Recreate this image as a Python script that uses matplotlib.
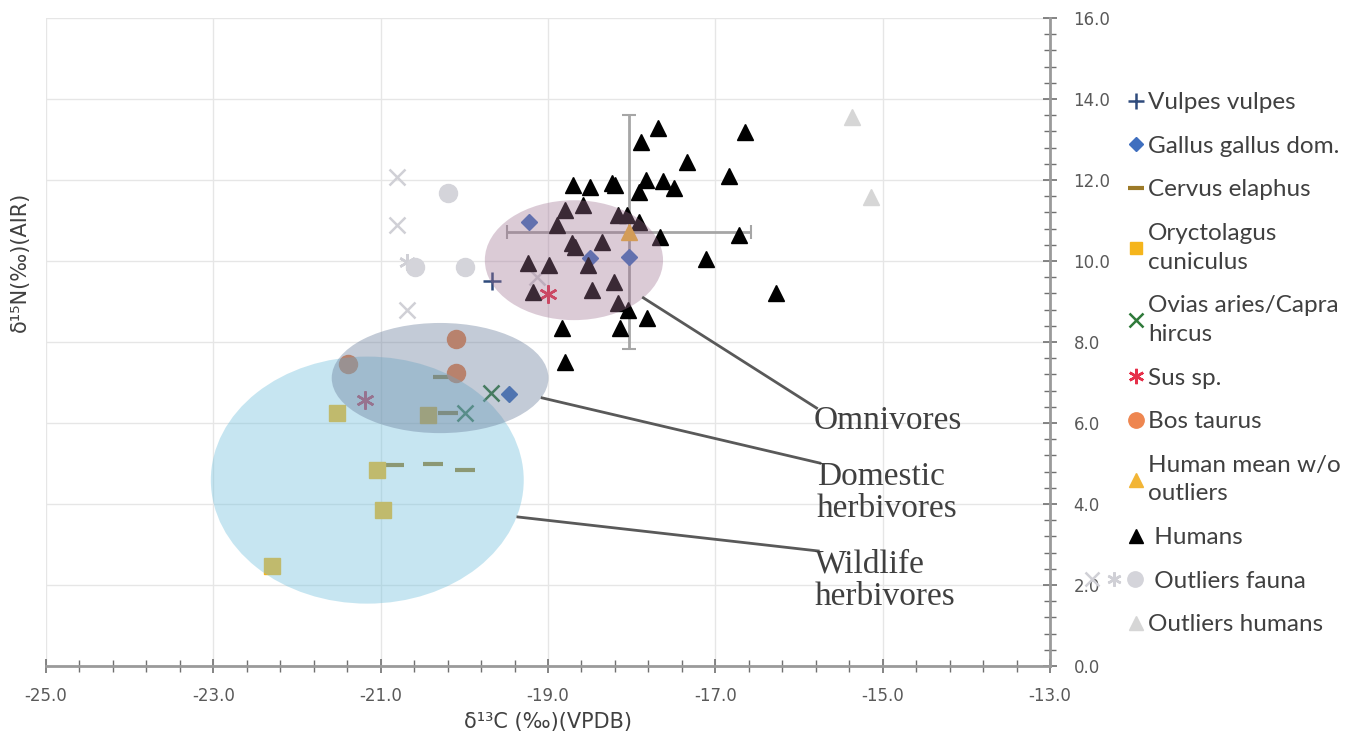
import numpy as np
import matplotlib
matplotlib.use("Agg")
import matplotlib.pyplot as plt
from matplotlib.patches import Ellipse
from matplotlib.legend_handler import HandlerTuple
from matplotlib.ticker import FixedLocator, FormatStrFormatter

plt.rcParams["axes.unicode_minus"] = False

# --- dati (d13C, d15N) ---
humans_x = [-17.69, -17.89, -16.65, -17.34, -16.84, -18.70, -18.50, -18.24, -18.20, -17.83,
            -17.91, -17.63, -17.49, -18.80, -18.58, -18.89, -18.16, -18.06, -17.91, -17.66,
            -16.72, -18.71, -18.68, -18.35, -17.11, -19.24, -18.99, -18.52, -18.21, -16.28,
            -19.18, -18.47, -18.16, -18.04, -17.82, -18.83, -18.14, -18.80]
humans_y = [13.28, 12.94, 13.19, 12.44, 12.10, 11.88, 11.83, 11.93, 11.88, 12.00,
            11.70, 11.98, 11.80, 11.26, 11.38, 10.89, 11.14, 11.14, 10.96, 10.59,
            10.64, 10.44, 10.35, 10.47, 10.05, 9.95, 9.90, 9.90, 9.48, 9.21,
            9.23, 9.28, 8.96, 8.79, 8.59, 8.35, 8.35, 7.51]

human_mean = (-18.03, 10.72)
human_err = (1.46, 2.89)

vulpes_x, vulpes_y = [-19.67], [9.51]
gallus_x = [-19.23, -18.50, -18.03, -19.47]
gallus_y = [10.96, 10.07, 10.10, 6.72]
cervus_x = [-20.26, -20.20, -20.84, -20.37, -19.99]
cervus_y = [7.14, 6.25, 4.96, 4.99, 4.84]
oryct_x = [-21.52, -20.43, -21.04, -20.97, -22.30]
oryct_y = [6.25, 6.20, 4.84, 3.85, 2.47]
ovis_x = [-19.68, -19.99]
ovis_y = [6.74, 6.25]
sus_x = [-19.00, -21.19]
sus_y = [9.19, 6.57]
bos_x = [-20.10, -20.10, -21.39]
bos_y = [8.07, 7.23, 7.46]

out_fauna_x_x = [-20.80, -20.80, -20.69, -19.13]
out_fauna_x_y = [12.07, 10.89, 8.79, 9.60]
out_fauna_ast_x, out_fauna_ast_y = [-20.69], [9.98]
out_fauna_o_x = [-20.59, -20.20, -19.99]
out_fauna_o_y = [9.85, 11.68, 9.85]
out_hum_x = [-15.37, -15.14]
out_hum_y = [13.56, 11.58]

# gruppi (ellissi): nome, centro, larghezza, altezza
gruppi = ["Wildlife\nherbivores", "Domestic\nherbivores", "Omnivores"]
centri = [(-21.16, 4.59), (-20.29, 7.11), (-18.69, 10.02)]
larghezze = [3.74, 2.59, 2.13]
altezze = [6.10, 2.72, 2.96]
# linee di richiamo: da bordo ellisse a etichetta
richiami = [((-19.36, 3.68), (-15.77, 2.84)),
            ((-19.07, 6.62), (-15.75, 5.01)),
            ((-17.86, 9.09), (-15.79, 6.37))]


class TuplaLarga(HandlerTuple):
    # allarga il simbolo composto verso sinistra (come nell'originale)
    def create_artists(self, legend, orig_handle, xdescent, ydescent, width, height,
                       fontsize, trans):
        extra = 32
        return super().create_artists(legend, orig_handle, xdescent + extra, ydescent,
                                      width + extra, height, fontsize, trans)


fig = plt.figure(figsize=(13.66, 7.40), dpi=100)
ax = fig.add_axes([46 / 1366, 74 / 740, 1004 / 1366, 648 / 740])
ax.set_xlim(-25, -13); ax.set_ylim(0, 16)

ax.xaxis.set_major_locator(FixedLocator(np.arange(-25, -12.9, 2)))
ax.xaxis.set_minor_locator(FixedLocator(np.arange(-25, -12.9, 0.4)))
ax.yaxis.set_major_locator(FixedLocator(np.arange(0, 16.1, 2)))
ax.yaxis.set_minor_locator(FixedLocator(np.arange(0, 16.1, 0.4)))
ax.xaxis.set_major_formatter(FormatStrFormatter("%.1f"))
ax.yaxis.set_major_formatter(FormatStrFormatter("%.1f"))
ax.grid(True, which="major", color="#e6e6e6", lw=1.0, zorder=0)
ax.set_axisbelow(True)
for s in ["top", "left"]:
    ax.spines[s].set_visible(False)
for s in ["bottom", "right"]:
    ax.spines[s].set_color("#9a9a9a"); ax.spines[s].set_linewidth(2)
ax.yaxis.tick_right()
ax.tick_params(which="both", direction="inout", color="#707070", labelcolor="#595959")
ax.tick_params(which="major", length=10, width=1.2, labelsize=12, pad=12)
ax.tick_params(which="minor", length=8, width=1.0)
ax.tick_params(axis="x", which="major", pad=10)

ax.set_xlabel("δ¹³C (‰)(VPDB)", fontsize=15, color="#404040", labelpad=5)
fig.text(20 / 1366, 1 - 262 / 740, "δ¹⁵N(‰)(AIR)", rotation=90, fontsize=15,
         color="#404040", ha="center", va="center")

# punti
h_vul, = ax.plot(vulpes_x, vulpes_y, ls="none", marker="+", ms=13, mew=1.8, color="#2f4b7c", zorder=3)
h_gal, = ax.plot(gallus_x, gallus_y, ls="none", marker="D", ms=8, color="#3f6fbf", zorder=3)
h_cer, = ax.plot(cervus_x, cervus_y, ls="none", marker="_", ms=14, mew=3, color="#9c7a28", zorder=3)
h_ory, = ax.plot(oryct_x, oryct_y, ls="none", marker="s", ms=11, color="#f5b51c", zorder=3)
h_ovi, = ax.plot(ovis_x, ovis_y, ls="none", marker="x", ms=12, mew=1.8, color="#2f7a3a", zorder=3)
h_sus, = ax.plot(sus_x, sus_y, ls="none", marker=(6, 2, 0), ms=13, mew=1.8, color="#e6304a", zorder=3)
h_bos, = ax.plot(bos_x, bos_y, ls="none", marker="o", ms=13, color="#ee8650", zorder=3)
h_ofx, = ax.plot(out_fauna_x_x, out_fauna_x_y, ls="none", marker="x", ms=12, mew=1.8, color="#d0d0d6", zorder=3)
h_ofa, = ax.plot(out_fauna_ast_x, out_fauna_ast_y, ls="none", marker=(6, 2, 0), ms=12, mew=1.8,
                 color="#d0d0d6", zorder=3)
h_ofo, = ax.plot(out_fauna_o_x, out_fauna_o_y, ls="none", marker="o", ms=13, color="#d4d4da", zorder=3)
h_ohu, = ax.plot(out_hum_x, out_hum_y, ls="none", marker="^", ms=12, color="#d6d6d6", zorder=3)

ax.errorbar([human_mean[0]], [human_mean[1]], xerr=[human_err[0]], yerr=[human_err[1]],
            fmt="none", ecolor="#a6a6a6", elinewidth=2, capsize=5, capthick=1.5, zorder=2)
h_hum, = ax.plot(humans_x, humans_y, ls="none", marker="^", ms=12, color="black", zorder=3)
h_mean, = ax.plot([human_mean[0]], [human_mean[1]], ls="none", marker="^", ms=12,
                  color="#f2b536", zorder=3)

# ellissi semitrasparenti sopra i punti (come le forme di Excel)
col_ell = ["#78c3de", "#697d9b", "#9f7292"]
alpha_ell = [0.42, 0.40, 0.37]
for c, w, h, col, a in zip(centri, larghezze, altezze, col_ell, alpha_ell):
    ax.add_patch(Ellipse(c, w, h, facecolor=col, edgecolor="none", alpha=a, zorder=4))

for nome, (p0, p1) in zip(gruppi, richiami):
    ax.plot([p0[0], p1[0]], [p0[1], p1[1]], color="#595959", lw=2, zorder=5)
    ax.text(p1[0] - 0.04, p1[1] + 0.05, nome, family="Liberation Serif", fontsize=24,
            color="#404040", ha="left", va="top", linespacing=1.08, zorder=5)

handles = [h_vul, h_gal, h_cer, h_ory, h_ovi, h_sus, h_bos, h_mean, h_hum,
           (h_ofx, h_ofa, h_ofo), h_ohu]
labels = ["Vulpes vulpes", "Gallus gallus dom.", "Cervus elaphus", "Oryctolagus\ncuniculus",
          "Ovias aries/Capra\nhircus", "Sus sp.", "Bos taurus", "Human mean w/o\noutliers",
          " Humans", " Outliers fauna", "Outliers humans"]
leg = fig.legend(handles, labels, loc="upper left", bbox_to_anchor=(1114 / 1366, 1 - 80 / 740),
                 frameon=False, handlelength=0.8, handletextpad=0.1,
                 labelspacing=0.93, borderpad=0, markerscale=0.85,
                 prop={"family": "Lato", "size": 17.5},
                 handler_map={tuple: TuplaLarga(ndivide=None, pad=0)})
for t in leg.get_texts():
    t.set_color("#404040")
    t.set_linespacing(1.45)

fig.savefig("out.png", dpi=100)
